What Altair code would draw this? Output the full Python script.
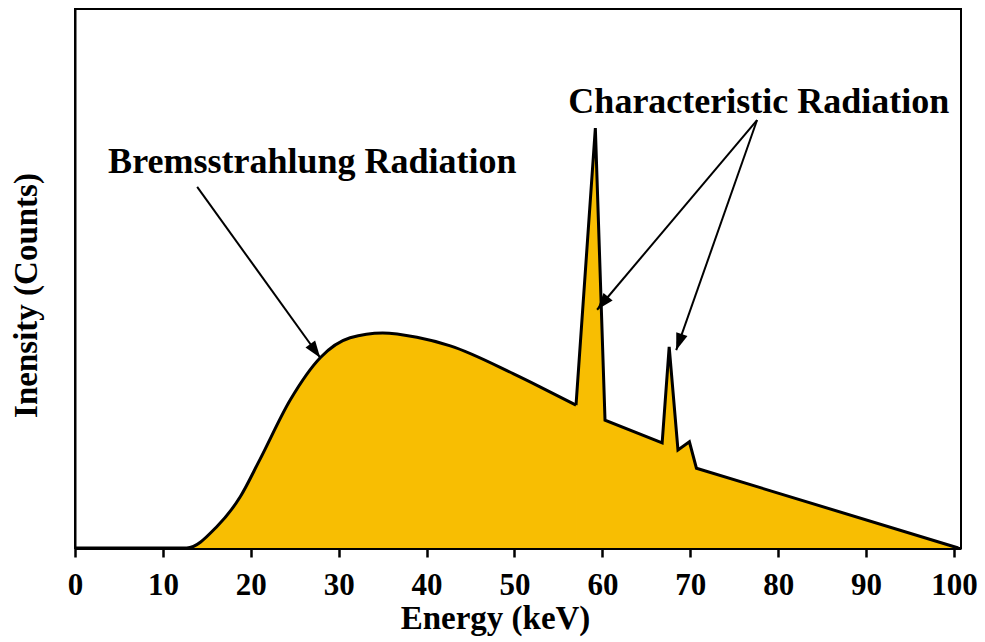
import math
import altair as alt
import pandas as pd

# Continuum (Bremsstrahlung) part, smooth
energy = [0, 12.7, 16.1, 18.8, 21.0, 24.5, 27.9, 31.3, 35.0, 38.9, 42.7, 49.9, 52.9, 57.0]
intensity = [0, 0, 3.9, 9.5, 16.3, 27.5, 35.3, 39.0, 39.9, 39.1, 37.5, 32.3, 29.9, 26.5]
# Characteristic peaks part, straight segments
peak_energy = [57.0, 59.2, 60.3, 66.8, 67.6, 68.6, 69.9, 70.7, 100.5]
peak_intensity = [26.5, 77.9, 23.7, 19.5, 37.3, 18.2, 19.7, 14.8, 0]

x_ticks = list(range(0, 101, 10))

labels = ["Bremsstrahlung Radiation", "Characteristic Radiation"]
label_x = [27.0, 77.8]
label_y = [69.6, 80.7]

arrow_x1 = [13.9, 77.6, 77.6]
arrow_y1 = [67.0, 79.4, 79.4]
arrow_x2 = [27.9, 59.4, 68.4]
arrow_y2 = [35.3, 44.2, 36.7]

X_MAX = 100.8
Y_MAX = 100
W, H = 886, 539
FILL = "#F8BE02"
FONT = "Liberation Serif"

smooth = pd.DataFrame({"e": energy, "i": intensity})
peaks = pd.DataFrame({"e": peak_energy, "i": peak_intensity})
texts = pd.DataFrame({"label": labels, "x": label_x, "y": label_y})

sx, sy = W / X_MAX, H / Y_MAX
angles = []
for a, b, c, d in zip(arrow_x1, arrow_y1, arrow_x2, arrow_y2):
    dxp = (c - a) * sx
    dyp = -(d - b) * sy
    angles.append(math.degrees(math.atan2(dxp, -dyp)) % 360)
arrows = pd.DataFrame({"x1": arrow_x1, "y1": arrow_y1, "x2": arrow_x2, "y2": arrow_y2, "angle": angles})

xscale = alt.Scale(domain=[0, X_MAX], nice=False, zero=False)
yscale = alt.Scale(domain=[0, Y_MAX], nice=False)

xaxis = alt.Axis(
    values=x_ticks, format="d", grid=False, labelFlush=False, labelOverlap=False,
    labelFont=FONT, labelFontSize=31, labelFontWeight="bold", labelColor="black", labelPadding=13,
    tickSize=9, tickWidth=2.5, tickColor="black", domainColor="black", domainWidth=3,
    title="Energy (keV)", titleFont=FONT, titleFontSize=33, titleFontWeight="bold", titleColor="black",
    titleX=420, titleY=80, titleBaseline="alphabetic", titleAlign="center",
)
yaxis = alt.Axis(
    grid=False, ticks=False, labels=False, domainColor="black", domainWidth=2,
    title="Inensity (Counts)", titleFont=FONT, titleFontSize=33, titleFontWeight="bold", titleColor="black",
    titleAngle=270, titleX=-39, titleY=286, titleBaseline="alphabetic", titleAlign="center",
)

x_enc = alt.X("e:Q", scale=xscale, axis=xaxis)
y_enc = alt.Y("i:Q", scale=yscale, axis=yaxis)

area1 = alt.Chart(smooth).mark_area(interpolate="monotone", color=FILL, opacity=1).encode(x=x_enc, y=y_enc)
line1 = alt.Chart(smooth).mark_line(interpolate="monotone", color="black", strokeWidth=3).encode(x="e:Q", y="i:Q")
area2 = alt.Chart(peaks).mark_area(interpolate="linear", color=FILL, opacity=1).encode(x="e:Q", y="i:Q")
line2 = alt.Chart(peaks).mark_line(interpolate="linear", color="black", strokeWidth=3, strokeJoin="miter").encode(x="e:Q", y="i:Q")

rules = alt.Chart(arrows).mark_rule(color="black", strokeWidth=2).encode(
    x=alt.X("x1:Q"), y=alt.Y("y1:Q"), x2="x2:Q", y2="y2:Q"
)
heads = alt.Chart(arrows).mark_point(
    shape="M0,0L-0.7,2L0.7,2Z", filled=True, color="black", size=289, opacity=1
).encode(x="x2:Q", y="y2:Q", angle=alt.Angle("angle:Q", scale=None))

text = alt.Chart(texts).mark_text(
    align="center", baseline="alphabetic", font=FONT, fontWeight="bold", fontSize=36, color="black"
).encode(x="x:Q", y="y:Q", text="label:N")

chart = alt.layer(area1, area2, line1, line2, rules, heads, text).properties(
    width=W, height=H,
    padding={"left": 75, "top": 9, "right": 24, "bottom": 94},
    autosize=alt.AutoSizeParams(type="none"),
    background="white",
).configure_view(stroke="black", strokeWidth=2)

chart.save("out.html", embed_options={"renderer": "svg", "actions": False})
